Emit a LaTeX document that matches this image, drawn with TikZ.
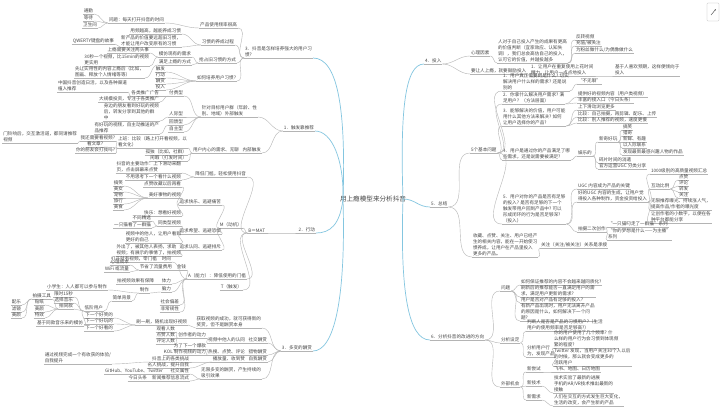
\documentclass[tikz,border=0pt]{standalone}
\usepackage{fontspec}
\newfontfamily\cjk{Noto Sans CJK SC}
\usetikzlibrary{arrows.meta}
\definecolor{linegray}{RGB}{180,180,180}
\definecolor{trunkblue}{RGB}{132,198,224}
\definecolor{txtgray}{RGB}{70,70,70}
\tikzset{
  every node/.style={font=\cjk\fontsize{4.6}{5.9}\selectfont, text=txtgray, inner xsep=0.8pt, inner ysep=0.8pt, align=left},
  uline/.style={draw=linegray, line width=0.4pt},
  link/.style={draw=linegray, line width=0.4pt},
  trunk/.style={draw=trunkblue, line width=0.7pt},
  lnode/.style={anchor=south east, append after command={(\tikzlastnode.south west) edge[uline] (\tikzlastnode.south east)}},
  rnode/.style={anchor=south west, append after command={(\tikzlastnode.south west) edge[uline] (\tikzlastnode.south east)}},
}
\begin{document}
\begin{tikzpicture}[x=1pt,y=-1pt]
    \useasboundingbox (0,0) rectangle (720,420);
    \fill[white] (0,0) rectangle (720,420);
    \node (mid) at (373,199) [font=\cjk\fontsize{6.6}{8}\selectfont] {用上瘾模型来分析抖音};
    \coordinate (cl) at (343,199);
    \coordinate (cr) at (403,199);
    % 3 habits
    \node (h0) at (313,58) [lnode] {3．抖音是怎样培养强大的用户习\\惯?};
    \node (h1) at (238,28) [lnode] {产品使用频率很高};
    \node (h11) at (165,23) [lnode] {问题：每天打开抖音的时间};
    \node (h111) at (94,14) [lnode] {通勤};
    \node (h112) at (94,21) [lnode] {等待};
    \node (h113) at (98,28) [lnode] {卫生间};
    \node (h2) at (235,45) [lnode] {习惯的养成过程};
    \node (h21) at (182,34) [lnode] {用频越高，越能养成习惯};
    \node (h22) at (182,47) [lnode] {新产品的价值要远超旧习惯，\\才能让用户改变原有的习惯};
    \node (h221) at (115,44) [lnode] {QWERTY键盘的故事};
    \node (h3) at (237,63) [lnode] {抢占旧习惯的方式};
    \node (h31) at (192,57) [lnode] {模仿现有的需求};
    \node (h311) at (150,53) [lnode] {上瘾需要关注两头事};
    \node (h312) at (150,66) [lnode] {30秒一个视频，比15min的视频\\更实用};
    \node (h32) at (192,65) [lnode] {满足上瘾的方式};
    \node (h321) at (145,78) [lnode] {先让实用性的内容上瘾后（比如，\\图画、释放个人情绪等等）};
    \node (h4) at (237,81) [lnode] {如何培养用户习惯?};
    \node (h41) at (166,72) [lnode] {触发};
    \node (h42) at (166,78) [lnode] {行动};
    \node (h43) at (166,84) [lnode] {酬赏};
    \node (h44) at (166,90) [lnode] {投入};
    % 1 trigger
    \node (t0) at (315,131) [lnode] {1．触发靠推荐};
    \node (t1) at (258,117) [lnode] {针对目标用户群（年龄、性\\别、地域）外部触发};
    \node (t11) at (184,96) [lnode] {付费型};
    \node (t111) at (160,96) [lnode] {各类推广广告};
    \node (t1111) at (128,92) [lnode] {中国抖音创造日活，以及各种渠道\\植入推荐};
    \node (t112) at (160,102) [lnode] {大规模投资，专注于各类推广};
    \node (t12) at (184,117) [lnode] {人际型};
    \node (t121) at (160,121) [lnode] {身边的朋友看到好玩的视频\\后，转发分享到其他的群\\中};
    \node (t13) at (184,125) [lnode] {回馈型};
    \node (t131) at (160,134) [lnode] {有好玩的视频，自主动推送的产\\品推荐};
    \node (t14) at (184,132) [lnode] {自主型};
    \node (t2) at (262,153) [lnode] {内部触发};
    \node (t21) at (240,153) [lnode] {用户内心的需求、无聊};
    \node (t211) at (188,148) [lnode] {上班：比较（路上打开看视频，以\\看文化）};
    \node (t2111) at (116,141) [lnode] {我还需要看视频?};
    \node (t21111) at (78,143) [lnode] {门铃响后，交互激活道，都同请推荐\\视频};
    \node (t2112) at (104,147) [lnode] {看文章?};
    \node (t2113) at (116,153) [lnode] {你的朋友会打我吗?};
    \node (t212) at (188,155) [lnode] {孤独（比如，社群）};
    \node (t213) at (188,161) [lnode] {闲暇（打发时间）};
    % 2 action
    \node (a0) at (316,233) [lnode] {2．行动};
    \node (a1) at (266,233) [lnode] {B＝MAT};
    \node (a2) at (247,177) [lnode] {降低门槛，轻松使用抖音};
    \node (a21) at (182,173) [lnode] {抖音的主要动作：上下滑动来翻\\页，点击屏幕来点赞};
    \node (a22) at (182,180) [lnode] {不用思考下一个看什么视频};
    \node (a3) at (243,228) [lnode] {M（动机）};
    \node (a31) at (222,205) [lnode] {追求快乐、逃避痛苦};
    \node (a311) at (182,187) [lnode] {点赞收藏以后再看};
    \node (a312) at (182,198) [lnode] {美好事物的视频};
    \node (a3121) at (124,186) [lnode] {搞笑};
    \node (a3122) at (124,192) [lnode] {美女};
    \node (a3123) at (124,198) [lnode] {宠物};
    \node (a3124) at (124,204) [lnode] {旅行};
    \node (a3125) at (124,210) [lnode] {美食};
    \node (a313) at (182,216) [lnode] {快乐：想看好视频};
    \node (a32) at (222,234) [lnode] {追求希望、逃避恐惧};
    \node (a321) at (182,226) [lnode] {同类型视频};
    \node (a3211) at (152,221) [lnode] {不同精选};
    \node (a3212) at (152,228) [lnode] {一只猫看了一群猫};
    \node (a322) at (182,243) [lnode] {视频中的他人，让用户看到\\更好的自己};
    \node (a33) at (222,250) [lnode] {追求认同、逃避排斥};
    \node (a331) at (182,256) [lnode] {外出了，被其他人表扬，求助\\视频；有展示的事情了，拍视频};
    \node (a4) at (247,279) [lnode] {A（能力）：降低使用的门槛};
    \node (a41) at (172,262) [lnode] {时间};
    \node (a411) at (158,262) [lnode] {打开就有视频，零门槛};
    \node (a42) at (187,270) [lnode] {金钱};
    \node (a421) at (173,270) [lnode] {节省了流量费用};
    \node (a4211) at (130,265) [lnode] {心理成本};
    \node (a4212) at (130,272) [lnode] {WiFi 或流量};
    \node (a43) at (172,284) [lnode] {体力};
    \node (a431) at (155,284) [lnode] {拍视频效果有保障};
    \node (a44) at (172,292) [lnode] {脑力};
    \node (a441) at (150,293) [lnode] {制作};
    \node (a4411) at (108,290) [lnode] {小学生：人人都可以参与制作};
    \node (a4412) at (132,301) [lnode] {简单背景};
    \node (a4413) at (104,311) [lnode] {低阶用户};
    \node (k1) at (74,297) [lnode] {限时15秒};
    \node (k2) at (74,303) [lnode] {选择音乐};
    \node (k3) at (74,309) [lnode] {拍同款};
    \node (k4) at (84,326) [lnode] {基于同款音乐来的模仿};
    \node (k31) at (52,299) [lnode] {拍摄工具};
    \node (k32) at (45,305) [lnode] {贴纸};
    \node (k33) at (45,312) [lnode] {美颜};
    \node (k34) at (45,318) [lnode] {特效};
    \node (k311) at (22,305) [lnode] {配乐};
    \node (k312) at (22,312) [lnode] {滤镜};
    \node (k313) at (22,318) [lnode] {美颜};
    \node (a45) at (180,305) [lnode] {社会偏差};
    \node (a46) at (180,312) [lnode] {非常规性};
    \node (a5) at (243,290) [lnode] {T（触发）};
    % 3 variable rewards
    \node (r0) at (313,351) [lnode] {3．多变的酬赏};
    \node (r1) at (262,328) [lnode] {获取视频的成功，就可获得新的\\奖赏，但不是酬赏本身};
    \node (r11) at (188,325) [lnode] {刷一刷，随机出现好视频};
    \node (r111) at (114,318) [lnode] {下一个好笑的};
    \node (r112) at (114,324) [lnode] {下一个好玩的};
    \node (r113) at (114,331) [lnode] {下一个好看的};
    \node (r2) at (268,343) [lnode] {社交酬赏};
    \node (r21) at (246,343) [lnode] {视频中他人的认同};
    \node (r211) at (207,338) [lnode] {创作者的动力};
    \node (r2111) at (176,332) [lnode] {观看人数};
    \node (r2112) at (176,338) [lnode] {点赞人数};
    \node (r2113) at (176,344) [lnode] {评论人数};
    \node (r3) at (268,355) [lnode] {猎物酬赏};
    \node (r31) at (246,355) [lnode] {热搜、点赞、评论};
    \node (r311) at (207,349) [lnode] {为了下一个爆款};
    \node (r312) at (207,355) [lnode] {KOL 制作视频的动力};
    \node (r4) at (268,362) [lnode] {自我酬赏};
    \node (r41) at (246,362) [lnode] {播放量、收到赞};
    \node (r411) at (190,362) [lnode] {抖音上的各类挑战};
    \node (r4111) at (112,364) [lnode] {通过视频完成一个有收获的体验/\\自我提升};
    \node (r412) at (190,368) [lnode] {名人挑战，提升自我};
    \node (r5) at (262,379) [lnode] {无限多变的酬赏，产生持续的\\吸引效果};
    \node (r51) at (190,374) [lnode] {社交属性};
    \node (r511) at (164,374) [lnode] {GitHub、YouTube、Twitter};
    \node (r52) at (190,381) [lnode] {新闻推荐信息流式};
    \node (r521) at (148,381) [lnode] {今日头条};
    % 4 investment
    \node (p0) at (424,64) [rnode] {4．投入};
    \node (p1) at (470,56) [rnode] {心理因素};
    \node (p11) at (497,63) [rnode] {人对于自己投入产生的成果有更高\\的价值判断（宜家效应、认知失\\调），我们总会高估自己的投入，\\认可它的价值，并越投越多};
    \node (p111) at (575,40) [rnode] {反转视频};
    \node (p112) at (575,46) [rnode] {充值/被关注};
    \node (p113) at (575,53) [rnode] {为粉丝做什么/为偶像做什么};
    \node (p2) at (470,74) [rnode] {要让人上瘾，就要鼓励投入};
    \node (p21) at (530,76) [rnode] {1．让用户在重复使用上花时间\\精力，让用户一点点地投入};
    \node (p211) at (614,76) [rnode] {基于人喜欢预期，这样便倾向于\\投入};
    % 5 summary
    \node (q0) at (430,207) [rnode] {5．总结};
    \node (q1) at (470,153) [rnode] {5个基本问题};
    \node (q11) at (502,91) [rnode] {1．用户真正需要的是什么? 切实\\解决用户什么样的需求? 还是说\\别的};
    \node (q111) at (577,84) [rnode] {“不无聊”};
    \node (q12) at (502,104) [rnode] {2．你拿什么解决用户需求? 满\\足用户？（方法层面）};
    \node (q121) at (577,97) [rnode] {提供好的视频内容（用户类视频）};
    \node (q122) at (577,103) [rnode] {丰富的接入口（今日头条）};
    \node (q13) at (502,126) [rnode] {3．能够解决的价值，用户可能\\用什么其他方法来解决? 如何\\让用户选择你的产品?};
    \node (q131) at (577,110) [rnode] {上下滑动浏览更多};
    \node (q132) at (577,117) [rnode] {比较：自己拍摄，再剪辑、配乐、上传};
    \node (q133) at (577,123) [rnode] {比较：别人推荐的视频，速度更慢};
    \node (q14) at (502,160) [rnode] {4．用户是通过你的产品满足了哪\\些需求，还是说需要被满足?};
    \node (q141) at (577,156) [rnode] {娱乐的};
    \node (q1411) at (598,142) [rnode] {新奇好玩};
    \node (q14111) at (622,130) [rnode] {搞笑};
    \node (q14112) at (622,136) [rnode] {猎奇};
    \node (q14113) at (622,142) [rnode] {新鲜、有趣};
    \node (q14114) at (622,148) [rnode] {以人际联系};
    \node (q14115) at (622,155) [rnode] {发现最新最感兴趣人物的作品};
    \node (q1412) at (598,163) [rnode] {碎片时间的消遣};
    \node (q1413) at (598,169) [rnode] {官方运营UGC 分类分享};
    \node (q15) at (502,224) [rnode] {5．用户对你的产品是否有足够\\的投入? 是否有足够的下一个\\触发带用户回到产品中? 可以\\形成闭环的行为是否足够深?\\（投入）};
    \node (q151) at (577,189) [rnode] {UGC 内容成为产品的关键};
    \node (q152) at (577,202) [rnode] {好的UGC 内容的生成，让用户觉\\得投入各种制作，资金投资给投入};
    \node (q1521) at (650,174) [rnode] {1000级别的高质量视频汇总};
    \node (q1522) at (650,189) [rnode] {互动比例};
    \node (q15221) at (678,180) [rnode] {点赞};
    \node (q15222) at (678,186) [rnode] {评论};
    \node (q15223) at (678,192) [rnode] {转发};
    \node (q15224) at (678,198) [rnode] {关注};
    \node (q1523) at (650,210) [rnode] {无限推荐曝光、持续涨人气，\\提高作品/作者的曝光度};
    \node (q1524) at (650,223) [rnode] {让创作者的小数字，以便在各\\种平台都能分享};
    \node (q153) at (577,232) [rnode] {拍摄二次创作};
    \node (q1531) at (607,227) [rnode] {“一只猫叼走了一群猫”系列};
    \node (q1532) at (607,240) [rnode] {“你的梦想是什么——为主播”\\系列};
    \node (q2) at (472,257) [rnode] {收藏、点赞、关注、用户已经产\\生的相关内容，能在一开始使习\\惯养成，让用户在产品里投入\\更多的产品。};
    \node (q21) at (540,248) [rnode] {关注（关注/被关注）关系是承接};
    % 6 improvements
    \node (s0) at (430,340) [rnode] {6．分析抖音的改进的方向};
    \node (s1) at (500,291) [rnode] {问题};
    \node (s11) at (520,285) [rnode] {如何保证推荐的内容不会越来越同质化?};
    \node (s12) at (520,297) [rnode] {刷新后的推荐能否一直满足用户的需\\求，满足用户更新的需求?};
    \node (s13) at (520,303) [rnode] {用户是否对产品有足够的投入?};
    \node (s14) at (520,321) [rnode] {有新产品出现时，用户无法离开产品\\的原因是什么，如何解决下一个问\\题?};
    \node (s2) at (500,343) [rnode] {分析设定};
    \node (s21) at (526,331) [rnode] {判断人是否是产品的习惯用户?（生活\\用户的使用频率是否足够高?）};
    \node (s22) at (526,357) [rnode] {分析用户行\\为，发现产品};
    \node (s221) at (553,348) [rnode] {你的用户使用了几个频率? 什\\么样的用户行为会习惯到体现频\\繁的程度?};
    \node (s222) at (553,366) [rnode] {Twitter 发现，当用户关注30个人以后\\的时候，那么就会变成更多的\\活跃用户};
    \node (s3) at (500,387) [rnode] {外部机会};
    \node (s31) at (526,372) [rnode] {新尝试};
    \node (s311) at (553,372) [rnode] {飞书、地图、日历地图};
    \node (s32) at (526,386) [rnode] {新技术};
    \node (s321) at (553,393) [rnode] {技术实验了最新的进展\\手机的AR/VR技术推出最新的\\接触};
    \node (s33) at (526,400) [rnode] {新需求};
    \node (s331) at (553,406) [rnode] {人们在交互的方式发生巨大变化，\\生活的改变，会产生新的产品};
    % connectors, left side
    \foreach \a/\b in {h0/h1,h0/h2,h0/h3,h0/h4,h1/h11,h11/h111,h11/h112,h11/h113,h2/h21,h2/h22,h22/h221,
        h3/h31,h3/h32,h31/h311,h31/h312,h32/h321,h4/h41,h4/h42,h4/h43,h4/h44,
        t0/t1,t0/t2,t1/t11,t1/t12,t1/t13,t1/t14,t11/t111,t11/t112,t111/t1111,t12/t121,t13/t131,
        t2/t21,t21/t211,t21/t212,t21/t213,t211/t2111,t211/t2112,t211/t2113,t2111/t21111,
        a0/a1,a1/a2,a1/a3,a1/a4,a1/a5,a2/a21,a2/a22,a3/a31,a3/a32,a3/a33,a31/a311,a31/a312,a31/a313,
        a312/a3121,a312/a3122,a312/a3123,a312/a3124,a312/a3125,a32/a321,a32/a322,a321/a3211,a321/a3212,a33/a331,
        a4/a41,a4/a42,a4/a43,a4/a44,a4/a45,a4/a46,a41/a411,a42/a421,a421/a4211,a421/a4212,a43/a431,
        a44/a441,a441/a4411,a441/a4412,a4412/a4413,a4413/k1,a4413/k2,a4413/k3,a4413/k4,
        k3/k31,k3/k32,k3/k33,k3/k34,k31/k311,k31/k312,k31/k313,
        r0/r1,r0/r2,r0/r3,r0/r4,r0/r5,r1/r11,r11/r111,r11/r112,r11/r113,r2/r21,r21/r211,
        r211/r2111,r211/r2112,r211/r2113,r3/r31,r31/r311,r31/r312,r4/r41,r41/r411,r41/r412,r411/r4111,
        r5/r51,r5/r52,r51/r511,r52/r521}
        \draw[link] (\a.south west) to[out=180,in=0] (\b.south east);
    % connectors, right side
    \foreach \a/\b in {p0/p1,p0/p2,p1/p11,p11/p111,p11/p112,p11/p113,p2/p21,p21/p211,
        q0/q1,q0/q2,q1/q11,q1/q12,q1/q13,q1/q14,q1/q15,q11/q111,q12/q121,q12/q122,q13/q131,q13/q132,q13/q133,
        q14/q141,q141/q1411,q141/q1412,q141/q1413,q1411/q14111,q1411/q14112,q1411/q14113,q1411/q14114,q1411/q14115,
        q15/q151,q15/q152,q15/q153,q152/q1521,q152/q1522,q152/q1523,q152/q1524,
        q1522/q15221,q1522/q15222,q1522/q15223,q1522/q15224,q153/q1531,q153/q1532,q2/q21,
        s0/s1,s0/s2,s0/s3,s1/s11,s1/s12,s1/s13,s1/s14,s2/s21,s2/s22,s22/s221,s22/s222,
        s3/s31,s3/s32,s3/s33,s31/s311,s32/s321,s33/s331}
        \draw[link] (\a.south east) to[out=0,in=180] (\b.south west);
    % main branches
    \draw[trunk] (cl) .. controls (346,110) and (338,58) .. (h0.south east);
    \draw[trunk] (cl) .. controls (344,160) and (332,131) .. (t0.south east);
    \draw[trunk] (cl) .. controls (340,225) and (330,233) .. (a0.south east);
    \draw[trunk] (cl) .. controls (346,300) and (334,351) .. (r0.south east);
    \draw[trunk] (cr) .. controls (400,110) and (405,64) .. (p0.south west);
    \draw[trunk] (cr) .. controls (415,199) and (418,207) .. (q0.south west);
    \draw[trunk] (cr) .. controls (400,290) and (408,340) .. (s0.south west);
    % expand icon
    \draw[linegray, line width=0.3pt, rounded corners=1pt] (707,3) rectangle (719,21);
    \draw[txtgray, line width=0.4pt, -{Latex[length=1.6pt]}] (711,15) -- (716,9);
\end{tikzpicture}
\end{document}
